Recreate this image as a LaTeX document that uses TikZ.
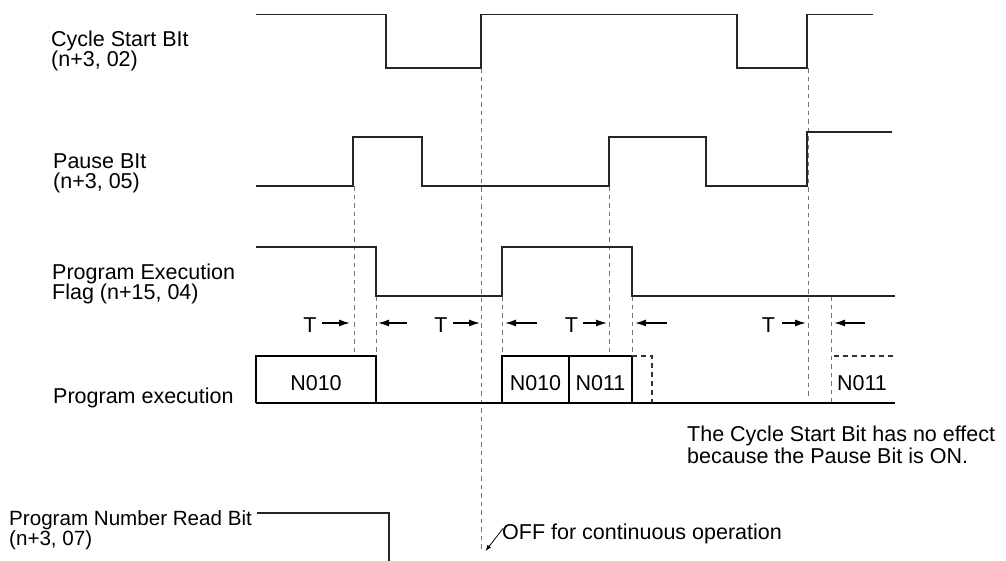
\documentclass[tikz,border=0pt]{standalone}
\usepackage{fontspec}
\setmainfont{Liberation Sans}
\usetikzlibrary{arrows.meta}
\begin{document}
\begin{tikzpicture}[x=1pt,y=-1pt,
  lbl/.style={inner sep=0pt,anchor=base west,font=\fontsize{21.5}{20}\selectfont},
  cell/.style={inner sep=0pt,anchor=base,font=\fontsize{21.5}{20}\selectfont},
  sig/.style={line width=1.4pt,black!85,line join=miter},
  box/.style={line width=1.3pt,black},
  dbox/.style={line width=1.1pt,black!80,dash pattern=on 5pt off 4pt},
  guide/.style={line width=0.8pt,black!55,dash pattern=on 4.5pt off 4pt},
  tarr/.style={line width=1.4pt,-{Latex[length=11pt,width=7pt]}},
  ]
\useasboundingbox (0,0) rectangle (1006,560);

% ---- labels ----
\node[lbl] (cs1) at (51,46.7) {Cycle Start BIt};
\node[lbl] (cs2) at (51,66.7) {(n+3, 02)};
\node[lbl] (pb1) at (53,168) {Pause BIt};
\node[lbl] (pb2) at (53,188) {(n+3, 05)};
\node[lbl] (pe1) at (52,279) {Program Execution};
\node[lbl] (pe2) at (52,299) {Flag (n+15, 04)};
\node[lbl] (px) at (53,403) {Program execution};
\node[lbl,font=\fontsize{20.6}{20}\selectfont] (pn1) at (9,525) {Program Number Read Bit};
\node[lbl,font=\fontsize{20.6}{20}\selectfont] (pn2) at (9,545) {(n+3, 07)};
\node[lbl,align=left,font=\fontsize{21.5}{18}\selectfont] (nt) at (687,463)
  {The Cycle Start Bit has no effect\\because the Pause Bit is ON.};
\node[lbl] (off) at (502,539) {OFF for continuous operation};

% ---- guide lines (dashed) ----
\draw[guide] (354,186) -- (354,352);
\draw[guide] (376,296) -- (376,356);
\draw[guide] (481.5,68) -- (481.5,552);
\draw[guide] (502,296) -- (502,356);
\draw[guide] (609.5,186) -- (609.5,352);
\draw[guide] (632,296) -- (632,356);
\draw[guide] (808,68) -- (808,398);
\draw[guide] (831,296) -- (831,403);

% ---- waveforms ----
\draw[sig] (256,14.7) -- (386,14.7) -- (386,68) -- (481,68) -- (481,14.7)
  -- (737,14.7) -- (737,68) -- (807,68) -- (807,14.7) -- (873,14.7);
\draw[sig] (256,186) -- (353,186) -- (353,137) -- (422,137) -- (422,186)
  -- (609,186) -- (609,137) -- (706,137) -- (706,186) -- (807,186)
  -- (807,132) -- (892,132);
\draw[sig] (256,247) -- (376,247) -- (376,296) -- (502,296) -- (502,247)
  -- (632,247) -- (632,296) -- (895,296);
\draw[sig] (257,513) -- (389,513) -- (389,562);

% ---- program execution row ----
\draw[box] (256,403) -- (895,403);
\draw[box] (256,403) -- (256,356) -- (376,356) -- (376,403);
\draw[box] (502,403) -- (502,356) -- (632,356) -- (632,403);
\draw[box] (569,356) -- (569,403);
\draw[dbox] (632,356) -- (652,356) -- (652,403);
\draw[dbox] (834,356) -- (895,356);
\node[cell] (n1) at (316,390) {N010};
\node[cell] (n2) at (535.5,390) {N010};
\node[cell] (n3) at (600.5,390) {N011};
\node[cell] (n4) at (862,390) {N011};

% ---- T markers ----
\node[cell] (t1) at (310,332) {T};
\node[cell] (t2) at (441,332) {T};
\node[cell] (t3) at (571.5,332) {T};
\node[cell] (t4) at (768.5,332) {T};
\draw[tarr] (322,323) -- (350,323);
\draw[tarr] (407,323) -- (378,323);
\draw[tarr] (453,323) -- (480,323);
\draw[tarr] (537,323) -- (505,323);
\draw[tarr] (583,323) -- (607,323);
\draw[tarr] (667,323) -- (635,323);
\draw[tarr] (782,323) -- (806,323);
\draw[tarr] (865,323) -- (834,323);

% ---- OFF pointer ----
\coordinate (offtip) at (485.5,551);
\draw[line width=0.8pt,-{Latex[length=6pt,width=4.5pt]}] (off.west) ++(1,-5) -- (offtip);
\end{tikzpicture}
\end{document}
